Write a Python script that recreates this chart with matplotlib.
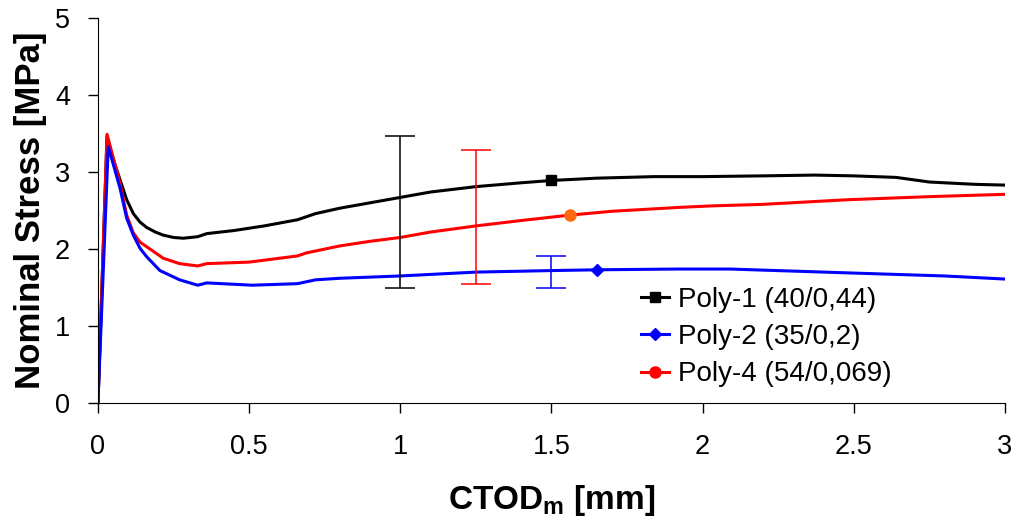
import numpy as np
import matplotlib
matplotlib.use("Agg")
import matplotlib.pyplot as plt
from matplotlib.lines import Line2D
from matplotlib.legend_handler import HandlerLine2D

plt.rcParams['font.family'] = ['Liberation Sans', 'DejaVu Sans']

# Poly-1 (black)
x_p1 = [0, 0.03, 0.051, 0.073, 0.095, 0.117, 0.139, 0.161, 0.19, 0.216, 0.25, 0.282,
        0.33, 0.36, 0.45, 0.55, 0.66, 0.72, 0.8, 0.9, 1.0, 1.1, 1.25, 1.4, 1.5, 1.65,
        1.84, 2.0, 2.2, 2.37, 2.5, 2.64, 2.75, 2.9, 3.0]
y_p1 = [0, 3.46, 3.16, 2.90, 2.64, 2.46, 2.35, 2.28, 2.22, 2.18, 2.15, 2.14,
        2.16, 2.2, 2.24, 2.30, 2.38, 2.46, 2.53, 2.60, 2.67, 2.74, 2.81, 2.86, 2.89, 2.92,
        2.94, 2.94, 2.95, 2.96, 2.95, 2.93, 2.87, 2.84, 2.83]

# Poly-2 (blue)
x_p2 = [0, 0.034, 0.073, 0.095, 0.117, 0.139, 0.161, 0.205, 0.27, 0.33, 0.36, 0.51,
        0.66, 0.72, 0.8, 1.0, 1.25, 1.5, 1.65, 1.92, 2.09, 2.48, 2.8, 3.0]
y_p2 = [0, 3.33, 2.79, 2.40, 2.18, 2.01, 1.90, 1.72, 1.60, 1.53, 1.56, 1.53,
        1.55, 1.60, 1.62, 1.65, 1.70, 1.72, 1.73, 1.74, 1.74, 1.69, 1.65, 1.61]

# Poly-4 (red)
x_p4 = [0, 0.03, 0.073, 0.095, 0.117, 0.139, 0.161, 0.216, 0.27, 0.33, 0.36, 0.5,
        0.66, 0.69, 0.8, 0.9, 1.0, 1.1, 1.25, 1.4, 1.56, 1.7, 1.92, 2.03, 2.2, 2.48,
        2.75, 3.0]
y_p4 = [0, 3.49, 2.85, 2.44, 2.21, 2.09, 2.03, 1.88, 1.81, 1.78, 1.81, 1.83,
        1.91, 1.95, 2.04, 2.10, 2.15, 2.22, 2.30, 2.37, 2.44, 2.49, 2.54, 2.56, 2.58, 2.64,
        2.68, 2.71]

mark_x = [1.5, 1.65, 1.56]  # where each curve carries its marker

labels = ["Poly-1 (40/0,44)", "Poly-2 (35/0,2)", "Poly-4 (54/0,069)"]

# scatter bands
err_x = [1.0, 1.25, 1.5]
err_lo = [1.49, 1.55, 1.50]
err_hi = [3.47, 3.28, 1.91]
err_col = ["black", "red", "blue"]


class EndMarker(HandlerLine2D):
    def get_xdata(self, legend, xdescent, ydescent, width, height, fontsize):
        xd = np.array([-xdescent, -xdescent + width])
        return xd, np.array([-xdescent + 0.75 * width])


fig = plt.figure(figsize=(10.13, 5.23), dpi=100)
ax = fig.add_axes([0.0967, 0.2294, 0.8953, 0.7362])

for xs, ys, c in [(x_p1, y_p1, "black"), (x_p4, y_p4, "red"), (x_p2, y_p2, "blue")]:
    ax.plot(xs, ys, color=c, lw=2.2, zorder=2)

ax.plot(x_p1, y_p1, ls="none", marker="s", ms=7, color="black",
        markevery=[x_p1.index(mark_x[0])], zorder=4)
ax.plot(x_p2, y_p2, ls="none", marker="D", ms=6, color="blue",
        markevery=[x_p2.index(mark_x[1])], zorder=4)
ax.plot(x_p4, y_p4, ls="none", marker="o", ms=8, color="#FF6A10",
        markevery=[x_p4.index(mark_x[2])], zorder=4)

for xe, lo, hi, c in zip(err_x, err_lo, err_hi, err_col):
    ax.errorbar(xe, (lo + hi) / 2, yerr=(hi - lo) / 2, fmt="none", ecolor=c,
                elinewidth=1.1, capsize=11, capthick=1.1, zorder=3)

ax.set_xlim(0, 3)
ax.set_ylim(0, 5)
ax.set_xticks([0, 0.5, 1, 1.5, 2, 2.5, 3])
ax.set_xticklabels(["0", "0.5", "1", "1.5", "2", "2.5", "3"])
ax.set_yticks([0, 1, 2, 3, 4, 5])
ax.tick_params(labelsize=19.5, length=7, width=1, direction="out")
ax.tick_params(axis="x", pad=15)
ax.tick_params(axis="y", pad=13)
for s in ["top", "right"]:
    ax.spines[s].set_visible(False)
ax.set_xlabel(r"CTOD$_\mathregular{m}$ [mm]", fontsize=24, fontweight="bold", labelpad=17)
ax.set_ylabel("Nominal Stress [MPa]", fontsize=25, fontweight="bold", labelpad=6)

handles = [
    Line2D([], [], color="black", lw=2.2, marker="s", ms=7),
    Line2D([], [], color="blue", lw=2.2, marker="D", ms=6),
    Line2D([], [], color="red", lw=2.2, marker="o", ms=8),
]
leg = ax.legend(handles, labels, loc="upper left", bbox_to_anchor=(0.587, 0.331),
                frameon=False, fontsize=20, handlelength=1.0, handletextpad=0.3,
                labelspacing=0.41, borderaxespad=0,
                handler_map={Line2D: EndMarker(numpoints=1)})

fig.savefig("out.png", dpi=100)
